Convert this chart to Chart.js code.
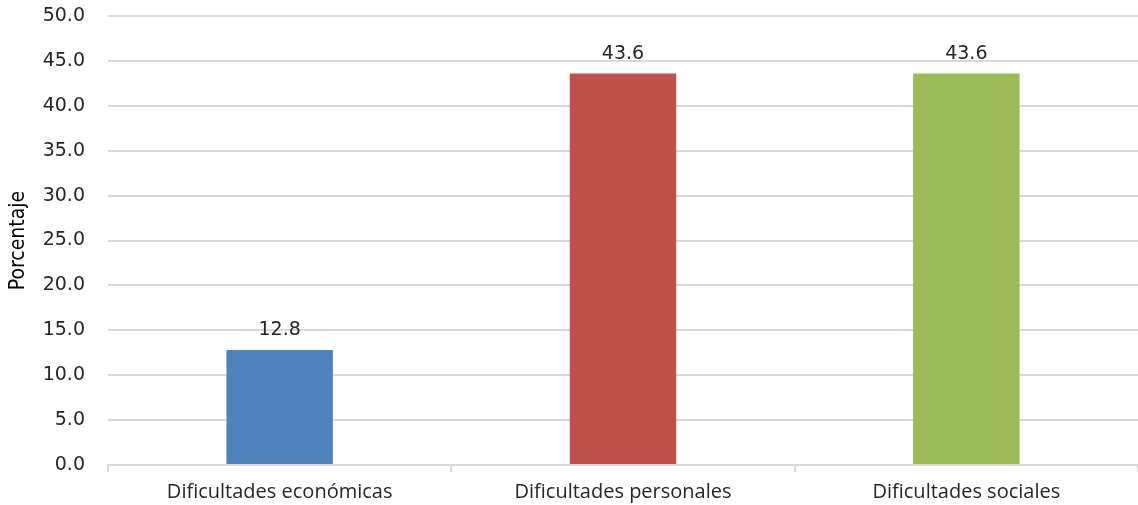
<!DOCTYPE html>
<html>
<head>
<meta charset="utf-8">
<script src="https://cdn.jsdelivr.net/npm/chart.js@4/dist/chart.umd.min.js"></script>
<style>
  html, body { margin: 0; padding: 0; background: #fff; }
  #wrap { width: 1138px; height: 505px; }
</style>
</head>
<body>
<div id="wrap"><canvas id="chart"></canvas></div>
<script>
// chart values
const categories = ['Dificultades económicas', 'Dificultades personales', 'Dificultades sociales'];
const values = [12.8, 43.6, 43.6];
const barColors = ['#4F81BD', '#C0504D', '#9BBB59'];
const yTitle = 'Porcentaje';
const yMin = 0, yMax = 50, yStep = 5;

// value labels above each bar
const valueLabels = {
    id: 'valueLabels',
    afterDatasetsDraw(chart) {
        const ctx = chart.ctx;
        const meta = chart.getDatasetMeta(0);
        ctx.save();
        ctx.fillStyle = '#262626';
        ctx.font = '19px "DejaVu Sans"';
        ctx.textAlign = 'center';
        ctx.textBaseline = 'bottom';
        meta.data.forEach((bar, i) => {
            ctx.fillText(values[i].toFixed(1), bar.x, bar.y - 10);
        });
        ctx.restore();
    }
};

const ctx = document.getElementById('chart').getContext('2d');
new Chart(ctx, {
    type: 'bar',
    data: {
        labels: categories,
        datasets: [{
            data: values,
            backgroundColor: barColors,
            borderWidth: 0,
            categoryPercentage: 1,
            barPercentage: 0.31
        }]
    },
    options: {
        responsive: true,
        maintainAspectRatio: false,
        animation: false,
        layout: { padding: { top: 16, right: 0, left: 0, bottom: 0 } },
        plugins: {
            legend: { display: false },
            tooltip: { enabled: false }
        },
        scales: {
            x: {
                grid: {
                    offset: true,
                    drawOnChartArea: false,
                    drawTicks: true,
                    tickLength: 7,
                    color: '#d9d9d9',
                    lineWidth: 2
                },
                border: { display: true, color: '#d9d9d9', width: 2 },
                ticks: {
                    color: '#262626',
                    font: { family: '"Open Sans"', size: 20 },
                    padding: 8
                },
                afterFit(axis) {
                    axis.height = 40;
                    axis.paddingLeft = 0;
                    axis.paddingRight = 0;
                }
            },
            y: {
                min: yMin,
                max: yMax,
                grid: {
                    drawTicks: false,
                    color: '#d9d9d9',
                    lineWidth: 2
                },
                border: { display: false },
                ticks: {
                    stepSize: yStep,
                    color: '#262626',
                    font: { family: '"DejaVu Sans"', size: 19 },
                    padding: 23,
                    callback: v => v.toFixed(1)
                },
                title: {
                    display: true,
                    text: yTitle,
                    color: '#000',
                    font: { family: '"Liberation Sans Narrow", "DejaVu Sans Condensed", sans-serif', size: 21 },
                    padding: { top: 6, bottom: 0 }
                },
                afterFit(axis) {
                    axis.width = 108;
                    axis.paddingTop = 0;
                    axis.paddingBottom = 0;
                }
            }
        }
    },
    plugins: [valueLabels]
});
</script>
</body>
</html>
